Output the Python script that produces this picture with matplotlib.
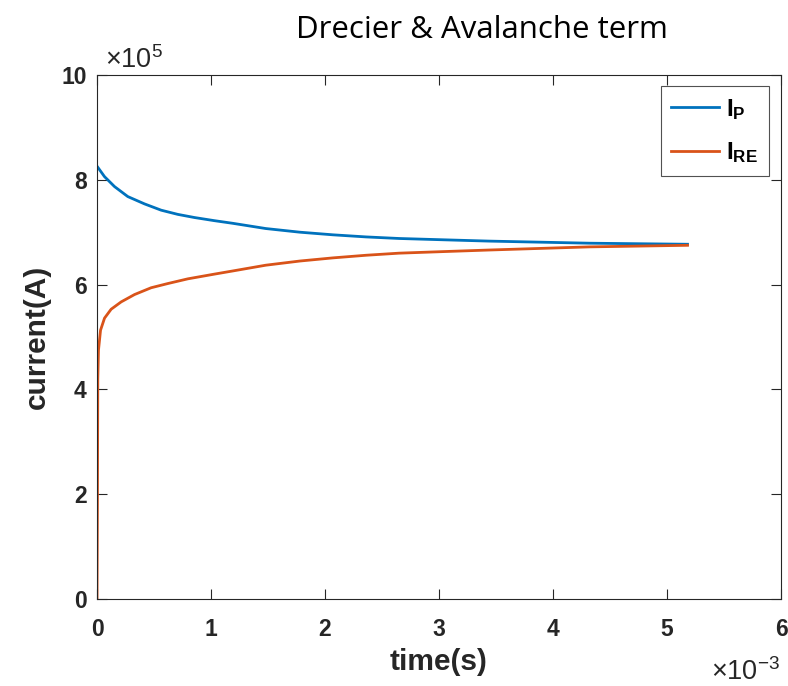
import numpy as np
import matplotlib
matplotlib.use("Agg")
import matplotlib.pyplot as plt

# time in units of 1e-3 s, current in units of 1e5 A
t_p = [0.0, 0.066, 0.154, 0.27, 0.417, 0.563, 0.709, 0.855, 1.03, 1.19, 1.48,
       1.78, 2.07, 2.36, 2.65, 3.04, 3.44, 3.88, 4.32, 4.75, 5.18]
i_p = [8.26, 8.06, 7.87, 7.68, 7.54, 7.42, 7.34, 7.28, 7.22, 7.17, 7.07,
       7.00, 6.95, 6.91, 6.88, 6.855, 6.83, 6.81, 6.79, 6.78, 6.77]

t_re = [0.0, 0.004, 0.007, 0.013, 0.031, 0.066, 0.124, 0.212, 0.329, 0.475,
        0.621, 0.797, 1.03, 1.19, 1.48, 1.78, 2.07, 2.36, 2.65, 3.04, 3.44,
        3.88, 4.32, 4.75, 5.18]
i_re = [0.0, 2.0, 4.2, 4.75, 5.13, 5.36, 5.53, 5.67, 5.81, 5.94,
        6.02, 6.11, 6.20, 6.26, 6.37, 6.45, 6.51, 6.56, 6.60, 6.63, 6.66,
        6.69, 6.72, 6.735, 6.75]

x_ticks = [0, 1, 2, 3, 4, 5, 6]
y_ticks = [0, 2, 4, 6, 8, 10]
x_exponent = r"$\times\mathregular{10^{-3}}$"
y_exponent = r"$\times\mathregular{10^{5}}$"

title = "Drecier & Avalanche term"
xlabel = "time(s)"
ylabel = "current(A)"
labels = [r"$\mathbf{I_{P}}$", r"$\mathbf{I_{RE}}$"]

plt.rcParams["font.family"] = ["Liberation Sans", "DejaVu Sans"]
plt.rcParams["mathtext.fontset"] = "custom"
plt.rcParams["mathtext.bf"] = "Liberation Sans:bold"
plt.rcParams["mathtext.rm"] = "Liberation Sans"
plt.rcParams["mathtext.it"] = "Liberation Sans:italic"

dark = "#262626"
fig = plt.figure(figsize=(7.88, 6.86), dpi=100)
ax = fig.add_axes([97 / 788, 1 - 599 / 686, 684 / 788, 524 / 686])

ax.plot(t_p, i_p, color="#0072BD", lw=2.0, label=labels[0])
ax.plot(t_re, i_re, color="#D95319", lw=2.0, label=labels[1])

ax.set_xlim(0, 6)
ax.set_ylim(0, 10)
ax.set_xticks(x_ticks)
ax.set_yticks(y_ticks)
ax.set_xticklabels([str(v) for v in x_ticks])
ax.set_yticklabels([str(v) for v in y_ticks])

ax.tick_params(direction="in", top=True, right=True, length=7, width=0.8,
               colors=dark, labelsize=16.5)
ax.tick_params(axis="x", pad=13.5)
ax.tick_params(axis="y", pad=7.5)
for lab in ax.get_xticklabels() + ax.get_yticklabels():
    lab.set_fontweight("bold")
for s in ax.spines.values():
    s.set_color(dark)
    s.set_linewidth(0.8)

ax.text(0.011, 1.014, y_exponent, transform=ax.transAxes, fontsize=19.5,
        color=dark, ha="left", va="baseline")
ax.text(0.999, -0.154, x_exponent, transform=ax.transAxes, fontsize=19.5,
        color=dark, ha="right", va="baseline")

ax.set_xlabel(xlabel, fontsize=21.5, fontweight="bold", color=dark)
ax.set_ylabel(ylabel, fontsize=21.5, fontweight="bold", color=dark)
ax.xaxis.set_label_coords(0.5, -0.094)
ax.yaxis.set_label_coords(-0.068, 0.5)

fig.text(482 / 788, 1 - 38 / 686, title, fontsize=22.5,
         family=["Open Sans", "DejaVu Sans"], ha="center", va="baseline",
         color="black")

leg = ax.legend(loc="upper right", fontsize=17.5, frameon=True, fancybox=False,
                edgecolor=dark, handlelength=1.95, handletextpad=0.3,
                borderpad=0.45, labelspacing=0.75, borderaxespad=0,
                bbox_to_anchor=(0.9825, 0.979))
leg.get_frame().set_linewidth(0.8)

fig.savefig("out.png", dpi=100)
